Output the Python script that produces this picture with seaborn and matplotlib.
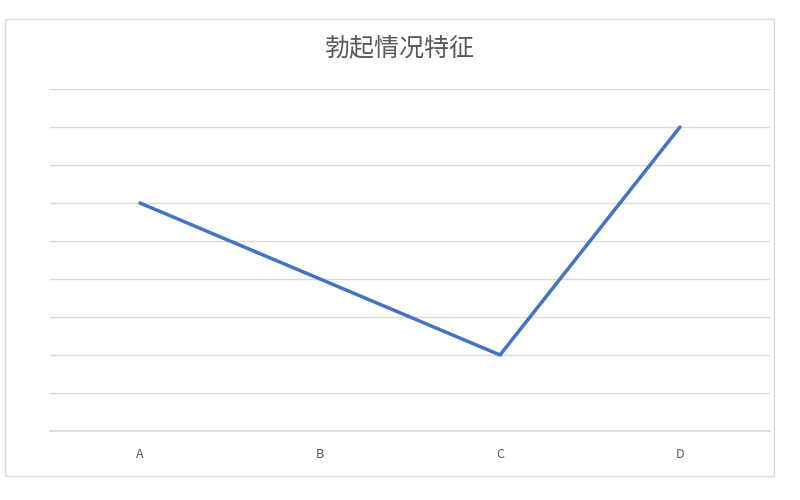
import matplotlib
matplotlib.use("Agg")
import matplotlib.pyplot as plt
import matplotlib.patches as mpatches
import seaborn as sns
import pandas as pd

categories = ["A", "B", "C", "D"]
values = [6, 4, 2, 8]
title = "勃起情况特征"

sns.set_theme(style="white")
plt.rcParams['font.family'] = ['Noto Sans CJK SC', 'DejaVu Sans']

df = pd.DataFrame({"cat": categories, "val": values})

fig = plt.figure(figsize=(8, 5), dpi=100)
fig.patch.set_facecolor("white")
ax = fig.add_axes([50/800, 69/500, 720/800, 342/500])

sns.lineplot(data=df, x="cat", y="val", ax=ax, color="#4472C4", linewidth=2.5,
             sort=False)

ax.set_xlim(-0.5, 3.5)
ax.set_ylim(0, 9)
ax.set_yticks(range(0, 10))
ax.set_yticklabels([])
ax.tick_params(axis="y", length=0)
ax.tick_params(axis="x", length=0, colors="#595959", labelsize=9, pad=12)
ax.grid(axis="y", color="#d9d9d9", linewidth=1)
ax.set_axisbelow(True)
for s in ["top", "right", "left"]:
    ax.spines[s].set_visible(False)
ax.spines["bottom"].set_color("#d9d9d9")
ax.set_xlabel("")
ax.set_ylabel("")

fig.text(0.5, 1 - 48/500, title, ha="center", va="center", fontsize=18,
         color="#595959")

rect = mpatches.Rectangle((5/800, 24/500), 769/800, 457/500, transform=fig.transFigure,
                          fill=False, edgecolor="#d9d9d9", linewidth=1)
fig.patches.append(rect)

fig.savefig("out.png", dpi=100)
